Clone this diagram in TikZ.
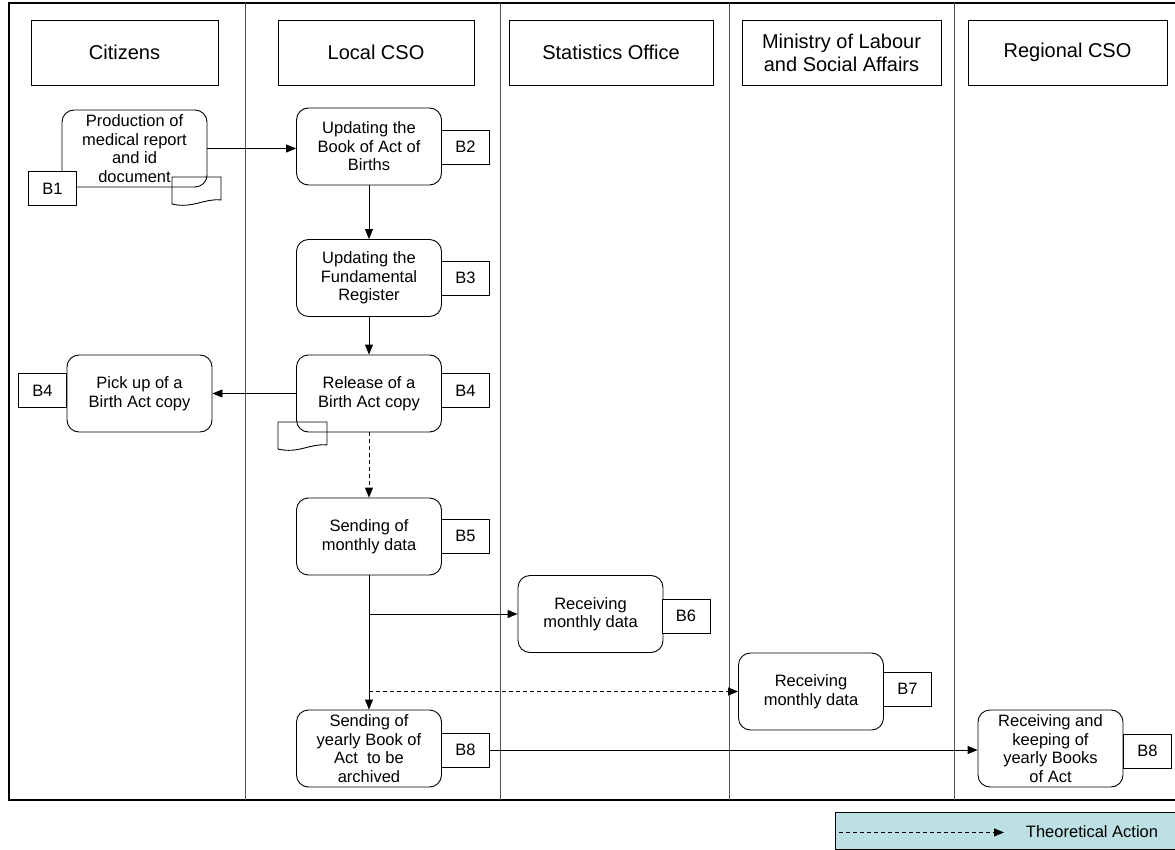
\documentclass[tikz,border=0pt]{standalone}
\usepackage{fontspec}
\setmainfont{Liberation Sans}
\usetikzlibrary{arrows.meta}
\definecolor{legendfill}{RGB}{188,224,227}
\definecolor{laneline}{RGB}{80,80,80}
\tikzset{
  docpage/.pic={\draw[line width=0.9pt] (0,0) -- (49,0) -- (49,23)
     .. controls (33,21) and (20,32) .. (0,27) -- cycle;}
}
\begin{document}
\begin{tikzpicture}[x=1pt,y=-1pt,
  every node/.style={font=\fontsize{16.5}{18.5}\selectfont, align=center, inner sep=0pt},
  proc/.style={draw, rounded corners=12pt, minimum width=145pt, minimum height=77pt,
               line width=0.9pt, fill=white},
  tag/.style={draw, fill=white, minimum width=48pt, minimum height=34pt, line width=0.9pt},
  lanehead/.style={draw, minimum height=65pt, line width=0.9pt,
                   font=\fontsize{20}{23}\selectfont},
  flow/.style={line width=0.9pt, -{Triangle[length=10pt,width=8pt]}},
  theory/.style={flow, dash pattern=on 4pt off 3pt},
  lane/.style={draw=laneline, line width=0.9pt},
]
\useasboundingbox (0,0) rectangle (1175,850);
\fill[white] (0,0) rectangle (1175,850);

% swimlane frame and lane separators
\draw[line width=1.1pt] (9,3) rectangle (1185,800);
\draw[lane] (245,3) -- (245,800);
\draw[lane] (500,3) -- (500,800);
\draw[lane] (729,3) -- (729,800);
\draw[lane] (954,3) -- (954,800);

% lane headers
\node[lanehead, minimum width=187pt] (hcit) at (124.5,52.5) {Citizens};
\node[lanehead, minimum width=196pt] (hloc) at (376,52.5) {Local CSO};
\node[lanehead, minimum width=204pt] (hsta) at (611,52.5) {Statistics Office};
\node[lanehead, minimum width=199pt] (hmin) at (841.5,52.5) {Ministry of Labour\\and Social Affairs};
\node[lanehead, minimum width=199pt] (hreg) at (1067.5,52.5) {Regional CSO};

% process steps
\node[proc] (b1) at (134.5,148.5) {Production of\\medical report\\and id\\document};
\node[proc] (b2) at (369,146.5) {Updating the\\Book of Act of\\Births};
\node[proc] (b3) at (369,278) {Updating the\\Fundamental\\Register};
\node[proc] (b4) at (369,393.5) {Release of a\\Birth Act copy};
\node[proc] (pick) at (139.5,393.5) {Pick up of a\\Birth Act copy};
\node[proc] (b5) at (369,536.5) {Sending of\\monthly data};
\node[proc] (b6) at (590.5,614) {Receiving\\monthly data};
\node[proc] (b7) at (811,691.5) {Receiving\\monthly data};
\node[proc] (b8) at (369,748.5) {Sending of\\yearly Book of\\Act~ to be\\archived};
\node[proc] (b9) at (1050.5,748.5) {Receiving and\\keeping of\\yearly Books\\of Act};

% documents
\pic at (172,177) {docpage};
\pic at (278,422) {docpage};

% step tags
\node[tag] (t1) at (52.5,188.5) {B1};
\node[tag] (t2) at (465.5,147) {B2};
\node[tag] (t3) at (465.5,278) {B3};
\node[tag] (t4) at (465.5,390.5) {B4};
\node[tag] (t4c) at (42.5,390.5) {B4};
\node[tag] (t5) at (465.5,536) {B5};
\node[tag] (t6) at (686,616) {B6};
\node[tag] (t7) at (907.5,689) {B7};
\node[tag] (t8) at (465.5,750) {B8};
\node[tag] (t9) at (1147.5,751) {B8};

% flows
\draw[flow] (b1.east) -- (b1.east -| b2.west);
\draw[flow] (b2.south) -- (b3.north);
\draw[flow] (b3.south) -- (b4.north);
\draw[flow] (b4.west) -- (pick.east);
\draw[theory] (b4.south) -- (b5.north);
\draw[flow] (b5.south) -- (b8.north);
\coordinate (j1) at (b5.south |- b6.west);
\coordinate (j2) at (b5.south |- b7.west);
\draw[flow] (j1) -- (b6.west);
\draw[theory] (j2) -- (b7.west);
\draw[flow] (t8.east) -- (t8.east -| b9.west);

% legend
\node[draw, fill=legendfill, line width=0.9pt, minimum width=350pt, minimum height=37pt,
      anchor=north west] (legend) at (835,812) {};
\coordinate (ls) at ([xshift=4pt,yshift=-1.5pt]legend.west);
\coordinate (le) at ([xshift=169pt,yshift=-1.5pt]legend.west);
\draw[theory] (ls) -- (le);
\node (ltext) at (1092,832) {Theoretical Action};
\end{tikzpicture}
\end{document}
